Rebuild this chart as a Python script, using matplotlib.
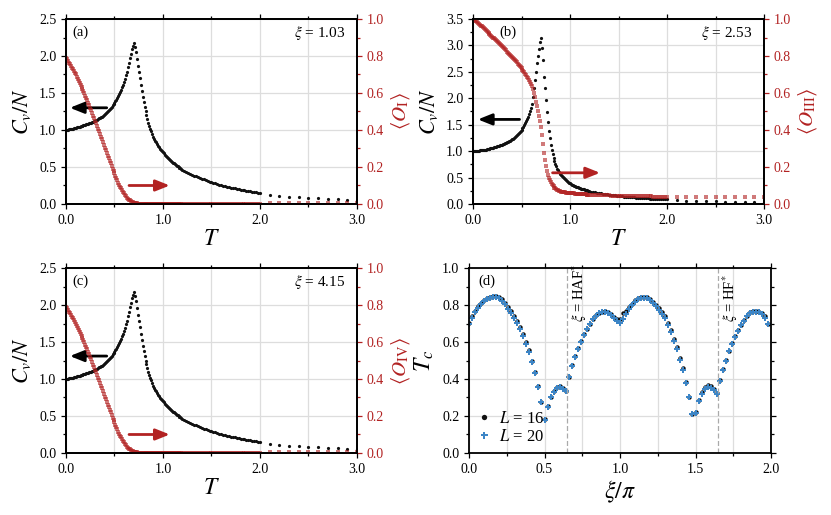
import numpy as np
import matplotlib
matplotlib.use('Agg')
import matplotlib.pyplot as plt
from matplotlib.ticker import MultipleLocator, FormatStrFormatter

plt.rcParams['font.family'] = 'serif'
plt.rcParams['font.serif'] = ['Liberation Serif', 'DejaVu Serif']
plt.rcParams['mathtext.fontset'] = 'stix'

# temperature grid: 0.01 steps up to 1.2, 0.02 steps up to 2, coarse tail beyond
T = np.round(np.concatenate([np.arange(0, 1.205, 0.01), np.arange(1.22, 2.001, 0.02),
                             np.arange(2.1, 3.01, 0.1)]), 2)

# panel (a), xi = 1.03
cv_a = [1.000, 1.002, 1.005, 1.008, 1.011, 1.014, 1.017, 1.020, 1.024, 1.027,
        1.031, 1.034, 1.038, 1.041, 1.045, 1.049, 1.053, 1.057, 1.061, 1.065,
        1.070, 1.075, 1.080, 1.085, 1.090, 1.095, 1.101, 1.107, 1.113, 1.119,
        1.126, 1.133, 1.140, 1.148, 1.156, 1.164, 1.173, 1.182, 1.191, 1.201,
        1.211, 1.224, 1.238, 1.254, 1.270, 1.285, 1.300, 1.317, 1.335, 1.352,
        1.370, 1.390, 1.410, 1.432, 1.455, 1.482, 1.510, 1.542, 1.575, 1.612,
        1.650,
        1.690, 1.740, 1.790, 1.850, 1.910, 1.970, 2.030, 2.090, 2.140, 2.170,
        2.120, 2.050, 1.960, 1.870, 1.780, 1.700, 1.610, 1.530, 1.450, 1.380,
        1.310, 1.250, 1.200, 1.150, 1.100, 1.060, 1.020, 0.980, 0.945, 0.910,
        0.882, 0.855, 0.832, 0.810, 0.787, 0.765, 0.747, 0.730, 0.715, 0.700,
        0.684, 0.668, 0.653, 0.638, 0.624, 0.610, 0.597, 0.584, 0.572, 0.560,
        0.549, 0.538, 0.528, 0.518, 0.508, 0.499, 0.490, 0.481, 0.472, 0.464,
        0.449, 0.434, 0.420, 0.407, 0.395,
        0.383, 0.372, 0.361, 0.351, 0.341, 0.331, 0.321, 0.312, 0.303, 0.294,
        0.286, 0.278, 0.270, 0.262, 0.255, 0.248, 0.241, 0.234, 0.228, 0.222,
        0.216, 0.210, 0.205, 0.200, 0.195, 0.190, 0.185, 0.180, 0.175, 0.171,
        0.166, 0.162, 0.158, 0.154, 0.150,
        0.125, 0.110, 0.100, 0.092, 0.083, 0.076, 0.070, 0.064, 0.058, 0.054]
ord_a = [0.790, 0.782, 0.773, 0.764, 0.755, 0.746, 0.737, 0.728, 0.719, 0.710,
         0.700, 0.689, 0.678, 0.667, 0.656, 0.645, 0.633, 0.622, 0.610, 0.598,
         0.586, 0.573, 0.560, 0.547, 0.533, 0.520, 0.506, 0.492, 0.478, 0.464,
         0.450, 0.436, 0.421, 0.407, 0.392, 0.378, 0.363, 0.349, 0.334, 0.320,
         0.305, 0.291, 0.276, 0.262, 0.247, 0.233, 0.219, 0.205, 0.191, 0.178,
         0.165, 0.152, 0.140, 0.128, 0.116, 0.105, 0.094, 0.084, 0.074, 0.065,
         0.057,
         0.049, 0.042, 0.035, 0.029, 0.024, 0.019, 0.015, 0.012, 0.009, 0.007,
         0.005, 0.004, 0.003, 0.002, 0.002, 0.001, 0.001, 0.001, 0.001, 0.001,
         0.001, 0.001, 0.001, 0.001, 0.001, 0.001, 0.001, 0.001, 0.001, 0.001,
         0.001, 0.001, 0.001, 0.001, 0.001, 0.001, 0.001, 0.001, 0.001, 0.001,
         0.001, 0.001, 0.001, 0.001, 0.001, 0.001, 0.001, 0.001, 0.001, 0.001,
         0.001, 0.001, 0.001, 0.001, 0.001, 0.001, 0.001, 0.001, 0.001, 0.001,
         0.001, 0.001, 0.001, 0.001, 0.001,
         0.001, 0.001, 0.001, 0.001, 0.001, 0.001, 0.001, 0.001, 0.001, 0.001,
         0.001, 0.001, 0.001, 0.001, 0.001, 0.001, 0.001, 0.001, 0.001, 0.001,
         0.001, 0.001, 0.001, 0.001, 0.001, 0.001, 0.001, 0.001, 0.001, 0.001,
         0.001, 0.001, 0.001, 0.001, 0.001,
         0.005, 0.005, 0.005, 0.005, 0.005, 0.005, 0.005, 0.005, 0.005, 0.005]

# panel (b), xi = 2.53
cv_b = [1.000, 1.001, 1.003, 1.005, 1.007, 1.009, 1.011, 1.013, 1.015, 1.017,
        1.020, 1.023, 1.026, 1.029, 1.033, 1.037, 1.041, 1.045, 1.050, 1.055,
        1.060, 1.065, 1.071, 1.077, 1.083, 1.089, 1.096, 1.103, 1.110, 1.117,
        1.125, 1.133, 1.141, 1.149, 1.158, 1.167, 1.177, 1.187, 1.198, 1.210,
        1.222, 1.235, 1.249, 1.264, 1.280, 1.297, 1.315, 1.335, 1.356, 1.380,
        1.405, 1.433, 1.463, 1.495, 1.530, 1.568, 1.610, 1.655, 1.705, 1.760,
        1.820,
        1.890, 2.030, 2.190, 2.350, 2.500, 2.660, 2.800, 2.930, 3.070, 3.140,
        2.960, 2.720, 2.410, 2.200, 1.960, 1.740, 1.550, 1.380, 1.240, 1.120,
        1.020, 0.940, 0.870, 0.810, 0.755, 0.710, 0.670, 0.635, 0.605, 0.575,
        0.552, 0.530, 0.510, 0.490, 0.472, 0.455, 0.437, 0.420, 0.405, 0.390,
        0.379, 0.368, 0.358, 0.348, 0.339, 0.330, 0.322, 0.314, 0.307, 0.300,
        0.293, 0.287, 0.281, 0.275, 0.269, 0.264, 0.259, 0.254, 0.249, 0.245,
        0.236, 0.228, 0.220, 0.213, 0.206,
        0.199, 0.193, 0.187, 0.181, 0.176, 0.171, 0.166, 0.161, 0.157, 0.153,
        0.149, 0.145, 0.141, 0.138, 0.134, 0.131, 0.128, 0.125, 0.122, 0.119,
        0.116, 0.113, 0.111, 0.108, 0.106, 0.103, 0.101, 0.099, 0.097, 0.095,
        0.093, 0.091, 0.089, 0.087, 0.085,
        0.070, 0.064, 0.058, 0.053, 0.049, 0.045, 0.042, 0.039, 0.036, 0.034]
ord_b = [1.000, 0.996, 0.991, 0.987, 0.982, 0.978, 0.973, 0.969, 0.964, 0.960,
         0.955, 0.950, 0.945, 0.940, 0.935, 0.930, 0.925, 0.920, 0.915, 0.910,
         0.905, 0.900, 0.895, 0.890, 0.884, 0.879, 0.874, 0.869, 0.863, 0.858,
         0.852, 0.847, 0.841, 0.836, 0.830, 0.824, 0.818, 0.813, 0.807, 0.801,
         0.795, 0.789, 0.783, 0.777, 0.771, 0.765, 0.759, 0.753, 0.746, 0.740,
         0.733, 0.726, 0.719, 0.712, 0.704, 0.696, 0.688, 0.679, 0.670, 0.660,
         0.648,
         0.636, 0.620, 0.600, 0.576, 0.552, 0.528, 0.504, 0.478, 0.450, 0.415,
         0.373, 0.325, 0.277, 0.236, 0.203, 0.178, 0.158, 0.142, 0.129, 0.118,
         0.109, 0.101, 0.095, 0.089, 0.084, 0.080, 0.077, 0.074, 0.071, 0.069,
         0.067, 0.066, 0.065, 0.064, 0.063, 0.062, 0.061, 0.060, 0.0595, 0.059,
         0.0585, 0.058, 0.0575, 0.057, 0.0565, 0.056, 0.0555, 0.055, 0.0545, 0.054,
         0.0535, 0.053, 0.0525, 0.052, 0.052, 0.0515, 0.051, 0.0505, 0.050, 0.050,
         0.050, 0.049, 0.049, 0.048, 0.048,
         0.047, 0.047, 0.046, 0.046, 0.046, 0.045, 0.045, 0.045, 0.044, 0.044,
         0.044, 0.044, 0.043, 0.043, 0.043, 0.043, 0.042, 0.042, 0.042, 0.042,
         0.042, 0.041, 0.041, 0.041, 0.041, 0.041, 0.041, 0.040, 0.040, 0.040,
         0.040, 0.040, 0.040, 0.040, 0.040,
         0.039, 0.039, 0.039, 0.039, 0.038, 0.038, 0.038, 0.038, 0.038, 0.038]

# panel (c), xi = 4.15 = 1.03 + pi, same curves as (a)
cv_c = list(cv_a)
ord_c = list(ord_a)

# panel (d): critical temperature vs xi/pi
xi = np.round(np.arange(100) * 0.02, 2)
tc_16 = [0.705, 0.740, 0.768, 0.792, 0.810, 0.825, 0.836, 0.844, 0.849, 0.850,
         0.843, 0.830, 0.813, 0.790, 0.765, 0.738, 0.712, 0.680, 0.645, 0.600,
         0.556, 0.500, 0.440, 0.360, 0.278, 0.182, 0.252, 0.303, 0.336, 0.358,
         0.363, 0.352, 0.336, 0.412, 0.474, 0.526, 0.568, 0.606, 0.642, 0.671,
         0.700, 0.724, 0.744, 0.757, 0.764, 0.765, 0.760, 0.750, 0.736, 0.722,
         0.725, 0.758, 0.770, 0.790, 0.808, 0.825, 0.836, 0.842, 0.843, 0.842,
         0.834, 0.818, 0.802, 0.783, 0.760, 0.738, 0.703, 0.665, 0.618, 0.572,
         0.515, 0.458, 0.386, 0.304, 0.212, 0.220, 0.284, 0.330, 0.355, 0.365,
         0.362, 0.348, 0.325, 0.392, 0.452, 0.503, 0.553, 0.593, 0.630, 0.663,
         0.693, 0.718, 0.743, 0.761, 0.765, 0.765, 0.764, 0.758, 0.738, 0.700]
tc_20 = [0.700, 0.732, 0.760, 0.785, 0.805, 0.820, 0.830, 0.838, 0.843, 0.845,
         0.836, 0.822, 0.805, 0.780, 0.755, 0.730, 0.705, 0.672, 0.635, 0.590,
         0.545, 0.490, 0.430, 0.355, 0.275, 0.180, 0.250, 0.300, 0.330, 0.352,
         0.358, 0.348, 0.333, 0.410, 0.470, 0.520, 0.562, 0.600, 0.638, 0.668,
         0.698, 0.722, 0.742, 0.755, 0.762, 0.763, 0.758, 0.748, 0.732, 0.712,
         0.702, 0.725, 0.752, 0.778, 0.800, 0.818, 0.830, 0.836, 0.838, 0.836,
         0.828, 0.812, 0.795, 0.775, 0.750, 0.728, 0.690, 0.652, 0.605, 0.560,
         0.505, 0.450, 0.380, 0.300, 0.210, 0.218, 0.280, 0.320, 0.345, 0.357,
         0.352, 0.340, 0.320, 0.390, 0.450, 0.500, 0.550, 0.590, 0.627, 0.660,
         0.690, 0.715, 0.740, 0.758, 0.762, 0.762, 0.760, 0.750, 0.730, 0.695]
xi_haf = 0.65
xi_hf = 1.65

red = '#b22222'
blue = '#3c85c6'
gridc = '#dddddd'


def style_axis(ax):
    for sp in ax.spines.values():
        sp.set_linewidth(1.3)
    ax.tick_params(which='both', direction='out', top=True, labelsize=10, width=0.9)
    ax.tick_params(which='major', length=3.5)
    ax.tick_params(which='minor', length=2)


def temp_panel(rect, cv, od, ymax, label, labx, xitxt, olab, arrows):
    ax = fig.add_axes(rect)
    ax.set_axisbelow(True)
    ax.plot(T, cv, ls='none', marker='o', ms=2.3, mew=0, color='#111111')
    ax.set_xlim(0, 3)
    ax.set_ylim(0, ymax)
    ax.xaxis.set_major_locator(MultipleLocator(1.0))
    ax.xaxis.set_minor_locator(MultipleLocator(0.5))
    ax.yaxis.set_major_locator(MultipleLocator(0.5))
    ax.yaxis.set_minor_locator(MultipleLocator(0.25))
    ax.xaxis.set_major_formatter(FormatStrFormatter('%.1f'))
    ax.yaxis.set_major_formatter(FormatStrFormatter('%.1f'))
    ax.grid(which='both', axis='x', color=gridc, lw=0.9)
    ax.grid(which='major', axis='y', color=gridc, lw=0.9)
    style_axis(ax)
    ax.set_xlabel(r'$T$', fontsize=17, labelpad=2)
    ax.set_ylabel(r'$C_v/N$', fontsize=16, labelpad=4)
    (bx0, bx1, by), (rx0, rx1, ry) = arrows
    ax.annotate('', xy=(bx1, by), xytext=(bx0, by),
                arrowprops=dict(arrowstyle='-|>,head_length=0.7,head_width=0.28',
                                color='black', lw=2, mutation_scale=12, shrinkA=0, shrinkB=0))
    ax.annotate('', xy=(rx1, ry), xytext=(rx0, ry),
                arrowprops=dict(arrowstyle='-|>,head_length=0.7,head_width=0.28',
                                color=red, lw=2, mutation_scale=12, shrinkA=0, shrinkB=0))
    ax.text(labx, 0.93, label, transform=ax.transAxes, fontsize=10.5, va='center')
    ax.text(0.96, 0.925, xitxt, transform=ax.transAxes, fontsize=11, va='center', ha='right')

    ax2 = ax.twinx()
    ax2.plot(T, od, ls='none', marker='s', ms=2.7, mew=0, color=red, alpha=0.6)
    ax2.set_ylim(0, 1)
    ax2.yaxis.set_major_locator(MultipleLocator(0.2))
    ax2.yaxis.set_minor_locator(MultipleLocator(0.1))
    ax2.yaxis.set_major_formatter(FormatStrFormatter('%.1f'))
    ax2.tick_params(which='both', direction='out', colors=red, labelsize=10, width=0.9)
    ax2.tick_params(which='major', length=3.5)
    ax2.tick_params(which='minor', length=2)
    for sp in ax2.spines.values():
        sp.set_linewidth(1.3)
    ax2.set_ylabel(olab, fontsize=15, color=red, labelpad=4)
    return ax


fig = plt.figure(figsize=(8.31, 5.15), dpi=100)

temp_panel([0.0794, 0.6039, 0.3502, 0.3592], cv_a, ord_a, 2.5, '(a)', 0.022, r'$\xi$ = 1.03',
           r'$\langle O_{\mathrm{I}}\rangle$', ((0.42, 0.04, 1.30), (0.65, 1.07, 0.25)))
temp_panel([0.5692, 0.6039, 0.3502, 0.3592], cv_b, ord_b, 3.5, '(b)', 0.09, r'$\xi$ = 2.53',
           r'$\langle O_{\mathrm{III}}\rangle$', ((0.48, 0.05, 1.60), (0.82, 1.31, 0.59)))
temp_panel([0.0794, 0.1204, 0.3502, 0.3592], cv_c, ord_c, 2.5, '(c)', 0.022, r'$\xi$ = 4.15',
           r'$\langle O_{\mathrm{IV}}\rangle$', ((0.42, 0.04, 1.31), (0.65, 1.07, 0.25)))

# panel (d)
ax = fig.add_axes([0.5644, 0.1204, 0.3634, 0.3592])
ax.set_axisbelow(True)
ax.plot(xi, tc_16, ls='none', marker='o', ms=3.2, mew=0, color='#111111', label=r'$L$ = 16')
ax.plot(xi, tc_20, ls='none', marker='P', ms=4.2, mew=0, color=blue, label=r'$L$ = 20')
ax.axvline(xi_haf, color='#aaaaaa', lw=0.9, ls=(0, (4, 2)))
ax.axvline(xi_hf, color='#aaaaaa', lw=0.9, ls=(0, (4, 2)))
ax.text(xi_haf + 0.015, 0.71, r'$\xi$ = HAF$^{*}$', rotation=90, fontsize=10.5,
        ha='left', va='bottom')
ax.text(xi_hf + 0.015, 0.71, r'$\xi$ = HF$^{*}$', rotation=90, fontsize=10.5,
        ha='left', va='bottom')
ax.set_xlim(0, 2)
ax.set_ylim(0, 1)
ax.xaxis.set_major_locator(MultipleLocator(0.5))
ax.xaxis.set_minor_locator(MultipleLocator(0.25))
ax.yaxis.set_major_locator(MultipleLocator(0.2))
ax.yaxis.set_minor_locator(MultipleLocator(0.1))
ax.xaxis.set_major_formatter(FormatStrFormatter('%.1f'))
ax.yaxis.set_major_formatter(FormatStrFormatter('%.1f'))
ax.grid(which='both', axis='x', color=gridc, lw=0.9)
ax.grid(which='major', axis='y', color=gridc, lw=0.9)
style_axis(ax)
ax.tick_params(which='both', right=True)
ax.text(0.03, 0.93, '(d)', transform=ax.transAxes, fontsize=10.5, va='center')
ax.set_xlabel(r'$\xi/\pi$', fontsize=17, labelpad=2)
ax.set_ylabel(r'$T_c$', fontsize=17, labelpad=4)
ax.legend(loc='lower left', frameon=False, fontsize=12, handlelength=0.8,
          handletextpad=0.5, labelspacing=0.1, borderaxespad=0.1, markerscale=1.2)

fig.savefig('out.png', dpi=100)
